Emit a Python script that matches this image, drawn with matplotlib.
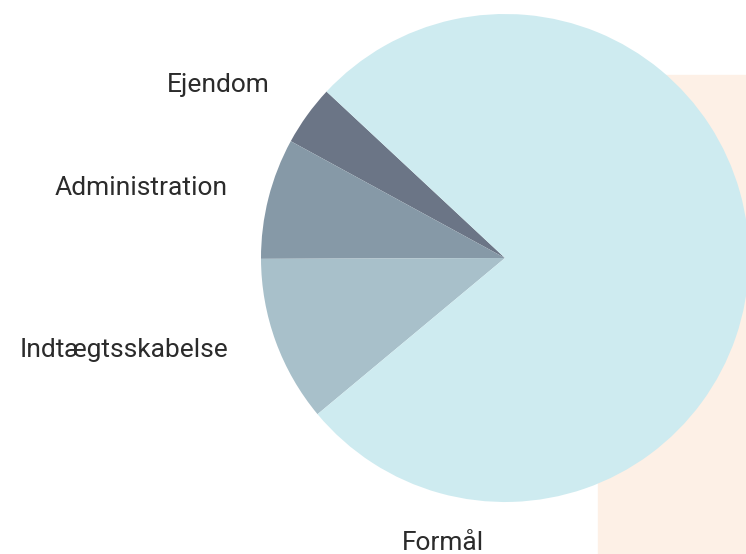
import matplotlib
matplotlib.use("Agg")
import matplotlib.pyplot as plt
from matplotlib.patches import Rectangle

# data (share in percent)
labels = ["Ejendom", "Administration", "Indtægtsskabelse", "Formål"]
shares = [4, 8, 11, 77]
colors = ["#6b7586", "#8699a7", "#a8c0ca", "#ceebf0"]

W, H = 746, 554
fig = plt.figure(figsize=(W / 100, H / 100), dpi=100)
ax = fig.add_axes([0, 0, 1, 1])

# peach background block behind the pie
ax.add_patch(Rectangle((598, 0), W - 598, H - 75, color="#fdf0e6", zorder=0))

cx, cy, r = 505, H - 258, 244
ax.pie(shares, colors=colors, startangle=137, counterclock=True,
       center=(cx, cy), radius=r, frame=True,
       wedgeprops=dict(linewidth=0, zorder=1))
ax.set_xlim(0, W)
ax.set_ylim(0, H)
ax.set_aspect("equal")
ax.axis("off")

font = dict(family="Roboto", fontsize=19, color="#2b2b2b")
ax.text(270, H - 92, labels[0], ha="right", va="baseline", **font)
ax.text(228, H - 195, labels[1], ha="right", va="baseline", **font)
ax.text(228, H - 357, labels[2], ha="right", va="baseline", **font)
ax.text(443, H - 550, labels[3], ha="center", va="baseline", **font)

fig.savefig("out.png", dpi=100)
